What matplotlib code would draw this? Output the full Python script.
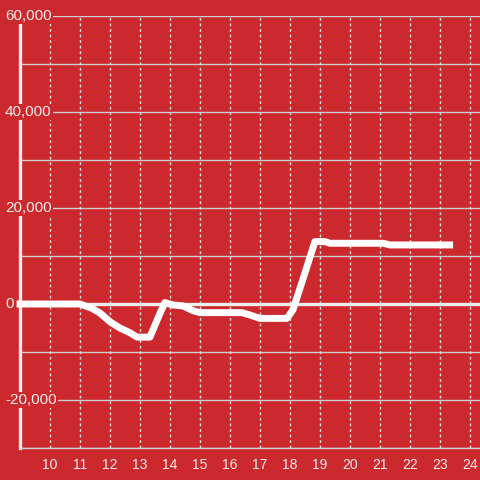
import matplotlib.pyplot as plt
from matplotlib.transforms import blended_transform_factory

# values
hours = [9.0, 11.0, 11.4, 11.67, 12.0, 12.33, 12.67, 12.9, 13.33, 13.67, 13.83,
         14.1, 14.43, 14.77, 15.0, 16.4, 16.67, 17.0, 17.9, 18.1, 18.5,
         18.83, 19.17, 19.33, 21.11, 21.33, 23.32]
values = [0, 0, -900, -1900, -3700, -5000, -6000, -6900, -6900, -1900, 300,
          -200, -400, -1400, -1800, -1800, -2300, -3000, -3000, -1200, 6500,
          13000, 13000, 12650, 12650, 12300, 12300]

x_ticks = list(range(10, 25))
y_labels = [60000, 40000, 20000, 0, -20000]
y_grid = list(range(-30000, 60001, 10000))

bg = '#cc292e'
txt = '#eeeeee'

plt.rcParams['font.family'] = ['Liberation Sans', 'DejaVu Sans']

fig = plt.figure(figsize=(4.8, 4.8), dpi=100, facecolor=bg)
ax = fig.add_axes([20 / 480, 32 / 480, 460 / 480, 432 / 480], facecolor=bg)

ax.set_xlim(9, 9 + 460 / 30)
ax.set_ylim(-30000, 60000)

# grid
for g in y_grid:
    ax.axhline(g, color='#cccccc', lw=1, zorder=1)
for t in x_ticks:
    ax.axvline(t, color='#dddddd', lw=1, ls=(0, (2, 2)), zorder=1)

# zero line
ax.axhline(0, color='#eeeeee', lw=2.4, zorder=2)

# data line
ax.plot(hours, values, color='white', lw=5, solid_joinstyle='round',
        solid_capstyle='projecting', zorder=3, clip_on=False)

for s in ['top', 'right']:
    ax.spines[s].set_visible(False)
ax.spines['bottom'].set_color('#cccccc')
ax.spines['bottom'].set_linewidth(1)
ax.spines['left'].set_color('#eeeeee')
ax.spines['left'].set_linewidth(2.4)
ax.spines['left'].set_zorder(2)

ax.set_xticks(x_ticks)
ax.set_xticklabels([str(t) for t in x_ticks])
ax.tick_params(axis='x', length=0, pad=7, labelsize=10, labelcolor=txt)
ax.set_yticks([])

trans = blended_transform_factory(fig.transFigure, ax.transData)
for v in y_labels:
    ax.text(5 / 480, v, f'{v:,}', transform=trans, ha='left', va='center',
            fontsize=11, color=txt, zorder=5,
            bbox=dict(facecolor=bg, edgecolor='none', pad=1))

fig.savefig('out.png', dpi=100, facecolor=bg)
